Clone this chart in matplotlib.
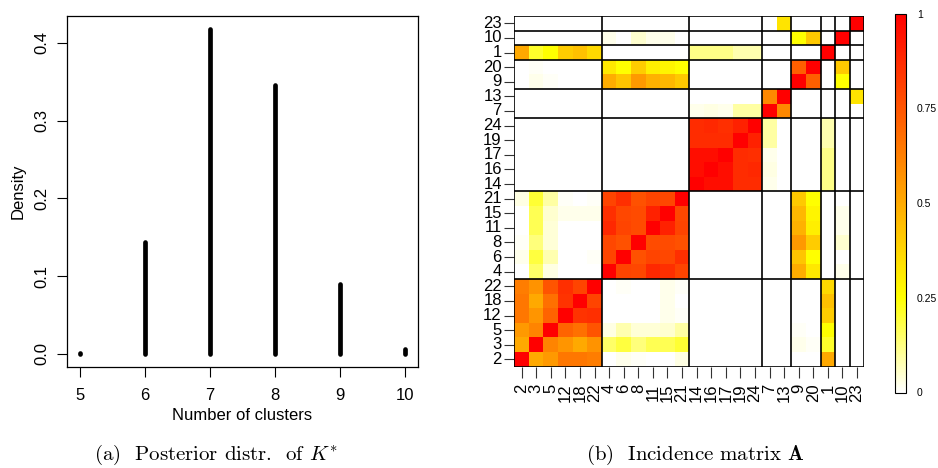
import numpy as np
import matplotlib
matplotlib.use("Agg")
import matplotlib.pyplot as plt
from matplotlib.colors import LinearSegmentedColormap
from matplotlib.colorbar import ColorbarBase
from matplotlib.colors import Normalize

plt.rcParams['font.family'] = ['Liberation Sans', 'DejaVu Sans']
plt.rcParams['mathtext.fontset'] = 'cm'

# ---------------- data: left panel ----------------
cluster_counts = [5, 6, 7, 8, 9, 10]
posterior_density = [0.0012, 0.144, 0.418, 0.346, 0.090, 0.0055]

# ---------------- data: right panel ----------------
item_order = [2, 3, 5, 12, 18, 22, 4, 6, 8, 11, 15, 21, 14, 16, 17, 19, 24, 7, 13, 9, 20, 1, 10, 23]
block_sizes = [6, 6, 5, 2, 2, 1, 1, 1]
# co-clustering probabilities, rows/cols in item_order
incidence = [
    # 2     3     5     12    18    22  |  4     6     8     11    15    21  |  14    16    17    19    24  |  7     13  |  9     20  |  1     10    23
    [1.00, 0.50, 0.55, 0.65, 0.65, 0.63, 0.00, 0.02, 0.01, 0.00, 0.00, 0.03, 0.00, 0.00, 0.00, 0.00, 0.00, 0.00, 0.00, 0.00, 0.00, 0.50, 0.00, 0.00],  # 2
    [0.50, 1.00, 0.61, 0.56, 0.50, 0.57, 0.15, 0.19, 0.13, 0.17, 0.17, 0.20, 0.00, 0.00, 0.00, 0.00, 0.00, 0.00, 0.00, 0.02, 0.01, 0.21, 0.00, 0.00],  # 3
    [0.55, 0.61, 1.00, 0.71, 0.67, 0.75, 0.03, 0.08, 0.04, 0.04, 0.05, 0.09, 0.00, 0.00, 0.00, 0.00, 0.00, 0.00, 0.00, 0.01, 0.00, 0.25, 0.00, 0.00],  # 5
    [0.65, 0.56, 0.71, 1.00, 0.85, 0.86, 0.00, 0.00, 0.00, 0.00, 0.02, 0.01, 0.00, 0.00, 0.00, 0.00, 0.00, 0.00, 0.00, 0.00, 0.00, 0.40, 0.00, 0.00],  # 12
    [0.65, 0.50, 0.67, 0.85, 1.00, 0.80, 0.00, 0.00, 0.00, 0.00, 0.02, 0.00, 0.00, 0.00, 0.00, 0.00, 0.00, 0.00, 0.00, 0.00, 0.00, 0.43, 0.00, 0.00],  # 18
    [0.63, 0.57, 0.75, 0.86, 0.80, 1.00, 0.00, 0.01, 0.00, 0.00, 0.02, 0.01, 0.00, 0.00, 0.00, 0.00, 0.00, 0.00, 0.00, 0.00, 0.00, 0.36, 0.00, 0.00],  # 22
    [0.00, 0.15, 0.03, 0.00, 0.00, 0.00, 1.00, 0.80, 0.79, 0.88, 0.86, 0.80, 0.00, 0.00, 0.00, 0.00, 0.00, 0.00, 0.00, 0.49, 0.32, 0.00, 0.02, 0.00],  # 4
    [0.02, 0.19, 0.08, 0.00, 0.00, 0.01, 0.80, 1.00, 0.76, 0.80, 0.79, 0.86, 0.00, 0.00, 0.00, 0.00, 0.00, 0.00, 0.00, 0.42, 0.25, 0.00, 0.00, 0.00],  # 6
    [0.01, 0.13, 0.04, 0.00, 0.00, 0.00, 0.79, 0.76, 1.00, 0.78, 0.78, 0.76, 0.00, 0.00, 0.00, 0.00, 0.00, 0.00, 0.00, 0.55, 0.40, 0.00, 0.05, 0.00],  # 8
    [0.00, 0.17, 0.04, 0.00, 0.00, 0.00, 0.88, 0.80, 0.78, 1.00, 0.90, 0.80, 0.00, 0.00, 0.00, 0.00, 0.00, 0.00, 0.00, 0.48, 0.30, 0.00, 0.02, 0.00],  # 11
    [0.00, 0.17, 0.05, 0.02, 0.02, 0.02, 0.86, 0.79, 0.78, 0.90, 1.00, 0.79, 0.00, 0.00, 0.00, 0.00, 0.00, 0.00, 0.00, 0.46, 0.28, 0.00, 0.02, 0.00],  # 15
    [0.03, 0.20, 0.09, 0.01, 0.00, 0.01, 0.80, 0.86, 0.76, 0.80, 0.79, 1.00, 0.00, 0.00, 0.00, 0.00, 0.00, 0.00, 0.00, 0.41, 0.25, 0.00, 0.00, 0.00],  # 21
    [0.00, 0.00, 0.00, 0.00, 0.00, 0.00, 0.00, 0.00, 0.00, 0.00, 0.00, 0.00, 1.00, 0.96, 0.96, 0.87, 0.87, 0.02, 0.00, 0.00, 0.00, 0.12, 0.00, 0.00],  # 14
    [0.00, 0.00, 0.00, 0.00, 0.00, 0.00, 0.00, 0.00, 0.00, 0.00, 0.00, 0.00, 0.96, 1.00, 0.96, 0.87, 0.88, 0.03, 0.00, 0.00, 0.00, 0.12, 0.00, 0.00],  # 16
    [0.00, 0.00, 0.00, 0.00, 0.00, 0.00, 0.00, 0.00, 0.00, 0.00, 0.00, 0.00, 0.96, 0.96, 1.00, 0.87, 0.86, 0.02, 0.00, 0.00, 0.00, 0.12, 0.00, 0.00],  # 17
    [0.00, 0.00, 0.00, 0.00, 0.00, 0.00, 0.00, 0.00, 0.00, 0.00, 0.00, 0.00, 0.87, 0.87, 0.87, 1.00, 0.90, 0.09, 0.00, 0.00, 0.00, 0.08, 0.00, 0.00],  # 19
    [0.00, 0.00, 0.00, 0.00, 0.00, 0.00, 0.00, 0.00, 0.00, 0.00, 0.00, 0.00, 0.87, 0.88, 0.86, 0.90, 1.00, 0.09, 0.00, 0.00, 0.00, 0.08, 0.00, 0.00],  # 24
    [0.00, 0.00, 0.00, 0.00, 0.00, 0.00, 0.00, 0.00, 0.00, 0.00, 0.00, 0.00, 0.02, 0.03, 0.02, 0.09, 0.09, 1.00, 0.60, 0.00, 0.00, 0.00, 0.00, 0.00],  # 7
    [0.00, 0.00, 0.00, 0.00, 0.00, 0.00, 0.00, 0.00, 0.00, 0.00, 0.00, 0.00, 0.00, 0.00, 0.00, 0.00, 0.00, 0.60, 1.00, 0.00, 0.00, 0.00, 0.00, 0.33],  # 13
    [0.00, 0.02, 0.01, 0.00, 0.00, 0.00, 0.49, 0.42, 0.55, 0.48, 0.46, 0.41, 0.00, 0.00, 0.00, 0.00, 0.00, 0.00, 0.00, 1.00, 0.72, 0.00, 0.25, 0.00],  # 9
    [0.00, 0.01, 0.00, 0.00, 0.00, 0.00, 0.32, 0.25, 0.40, 0.30, 0.28, 0.25, 0.00, 0.00, 0.00, 0.00, 0.00, 0.00, 0.00, 0.72, 1.00, 0.00, 0.41, 0.00],  # 20
    [0.50, 0.21, 0.25, 0.40, 0.43, 0.36, 0.00, 0.00, 0.00, 0.00, 0.00, 0.00, 0.12, 0.12, 0.12, 0.08, 0.08, 0.00, 0.00, 0.00, 0.00, 1.00, 0.00, 0.00],  # 1
    [0.00, 0.00, 0.00, 0.00, 0.00, 0.00, 0.02, 0.00, 0.05, 0.02, 0.02, 0.00, 0.00, 0.00, 0.00, 0.00, 0.00, 0.00, 0.00, 0.25, 0.41, 0.00, 1.00, 0.00],  # 10
    [0.00, 0.00, 0.00, 0.00, 0.00, 0.00, 0.00, 0.00, 0.00, 0.00, 0.00, 0.00, 0.00, 0.00, 0.00, 0.00, 0.00, 0.00, 0.33, 0.00, 0.00, 0.00, 0.00, 1.00],  # 23
]
colorbar_ticks = [0, 0.25, 0.5, 0.75, 1]
colorbar_labels = ['0', '0.25', '0.5', '0.75', '1']

heat = LinearSegmentedColormap.from_list(
    'heat', [(0.0, '#FFFFFF'), (0.25, '#FFFF00'), (1.0, '#FF0000')])

W, H = 938, 468
fig = plt.figure(figsize=(W / 100, H / 100), dpi=100)

def rect(l, t, r, b):
    return [l / W, 1 - b / H, (r - l) / W, (b - t) / H]

# ---------------- left panel ----------------
ax1 = fig.add_axes(rect(67.3, 16, 417.7, 366.7))
lc = ax1.vlines(cluster_counts, 0, posterior_density, colors='black', linewidth=3.4)
lc.set_capstyle('round')
xr = max(cluster_counts) - min(cluster_counts)
ax1.set_xlim(min(cluster_counts) - 0.04 * xr, max(cluster_counts) + 0.04 * xr)
ymax = max(posterior_density)
ax1.set_ylim(-0.04 * ymax, ymax * 1.04)
ax1.set_xticks(cluster_counts)
ax1.set_xticklabels([str(c) for c in cluster_counts], fontsize=12)
yt = [0.0, 0.1, 0.2, 0.3, 0.4]
ax1.set_yticks(yt)
ax1.set_yticklabels([f'{v:.1f}' for v in yt], fontsize=12, rotation=90, va='center')
ax1.tick_params(axis='x', direction='out', length=7, width=0.8, pad=8)
ax1.tick_params(axis='y', direction='out', length=7, width=0.8, pad=6)
for s in ax1.spines.values():
    s.set_linewidth(0.9)
ax1.set_xlabel('Number of clusters', fontsize=12, labelpad=4)
ax1.set_ylabel('Density', fontsize=12, labelpad=6)

# ---------------- right panel ----------------
M = np.array(incidence)
n = len(item_order)
ax2 = fig.add_axes(rect(514.3, 16, 864.3, 366.7))
edges = np.arange(n + 1)
ax2.pcolormesh(edges, edges, M, cmap=heat, vmin=0, vmax=1, shading='flat')
ax2.set_xlim(0, n)
ax2.set_ylim(0, n)
bounds = np.concatenate([[0], np.cumsum(block_sizes)])
for b in bounds:
    ax2.axvline(b, color='black', linewidth=1.2)
    ax2.axhline(b, color='black', linewidth=1.2)
ax2.set_xticks(np.arange(n) + 0.5)
ax2.set_xticklabels([str(i) for i in item_order], rotation=90, fontsize=12)
ax2.set_yticks(np.arange(n) + 0.5)
ax2.set_yticklabels([str(i) for i in item_order], fontsize=12, va='center')
ax2.tick_params(axis='x', direction='out', length=8, width=0.8, pad=4, color='#333333')
ax2.tick_params(axis='y', direction='out', length=7, width=0.8, pad=2, color='#333333')
for s in ax2.spines.values():
    s.set_visible(False)

# colorbar
cax = fig.add_axes(rect(895, 13.5, 906, 392.5))
cb = ColorbarBase(cax, cmap=heat, norm=Normalize(0, 1), orientation='vertical')
cb.set_ticks(colorbar_ticks)
cb.set_ticklabels(colorbar_labels)
cb.outline.set_linewidth(0.8)
cax.tick_params(length=0, labelsize=7.5, pad=8)

# captions
fig.text(216 / W, 1 - 455 / H, r'(a)  Posterior distr.  of $K^{*}$', ha='center', va='center',
         fontsize=15, family='cmr10')
fig.text(695 / W, 1 - 455 / H, r'(b)  Incidence matrix $\mathbf{A}$', ha='center', va='center',
         fontsize=15, family='cmr10')

fig.savefig('out.png', dpi=100)
